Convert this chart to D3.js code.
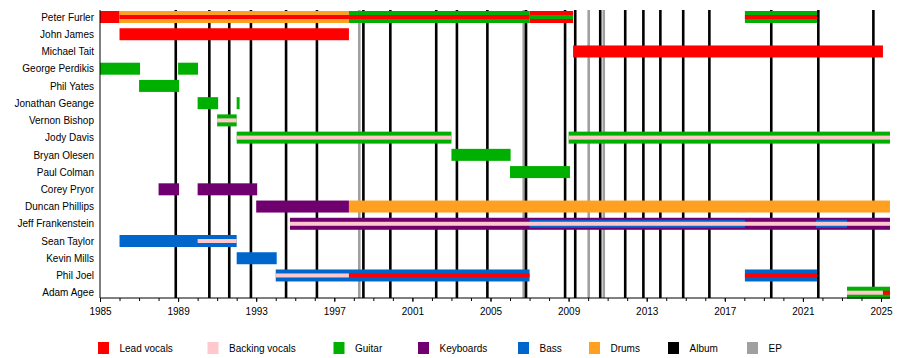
<!DOCTYPE html>
<html>
<head>
<meta charset="utf-8">
<script src="https://cdn.jsdelivr.net/npm/d3@7"></script>
<style>
  html, body { margin: 0; padding: 0; background: #fff; }
  svg { display: block; font-family: "Liberation Sans", Arial, sans-serif; }
</style>
</head>
<body>
<svg id="chart" width="900" height="358"></svg>
<script>
// ---------- data ----------
const members = ["Peter Furler", "John James", "Michael Tait", "George Perdikis", "Phil Yates",
  "Jonathan Geange", "Vernon Bishop", "Jody Davis", "Bryan Olesen", "Paul Colman",
  "Corey Pryor", "Duncan Phillips", "Jeff Frankenstein", "Sean Taylor", "Kevin Mills",
  "Phil Joel", "Adam Agee"];

const roles = ["Lead vocals", "Backing vocals", "Guitar", "Keyboards", "Bass", "Drums"];

// [member, role, start, end, layer]  layer: "full" | "inner" | "stripe"
const periods = [
  ["Peter Furler", "Lead vocals", 1985.0, 1986.0, "full"],
  ["Peter Furler", "Drums", 1986.0, 1997.75, "full"],
  ["Peter Furler", "Lead vocals", 1986.0, 1997.75, "stripe"],
  ["Peter Furler", "Guitar", 1997.75, 2007.0, "full"],
  ["Peter Furler", "Lead vocals", 1997.75, 2007.0, "stripe"],
  ["Peter Furler", "Lead vocals", 2007.0, 2009.23, "full"],
  ["Peter Furler", "Guitar", 2007.0, 2009.23, "stripe"],
  ["Peter Furler", "Guitar", 2018.03, 2021.72, "full"],
  ["Peter Furler", "Lead vocals", 2018.03, 2021.72, "stripe"],
  ["John James", "Lead vocals", 1986.0, 1997.75, "full"],
  ["Michael Tait", "Lead vocals", 2009.23, 2025.1, "full"],
  ["George Perdikis", "Guitar", 1985.0, 1987.05, "full"],
  ["George Perdikis", "Guitar", 1989.0, 1990.02, "full"],
  ["Phil Yates", "Guitar", 1987.0, 1989.05, "full"],
  ["Jonathan Geange", "Guitar", 1990.0, 1991.05, "full"],
  ["Jonathan Geange", "Guitar", 1992.0, 1992.15, "full"],
  ["Vernon Bishop", "Guitar", 1991.0, 1992.0, "full"],
  ["Vernon Bishop", "Backing vocals", 1991.0, 1992.0, "stripe"],
  ["Jody Davis", "Guitar", 1992.0, 2003.0, "full"],
  ["Jody Davis", "Backing vocals", 1992.0, 2003.0, "stripe"],
  ["Jody Davis", "Guitar", 2009.0, 2025.46, "full"],
  ["Jody Davis", "Backing vocals", 2009.0, 2025.46, "stripe"],
  ["Bryan Olesen", "Guitar", 2003.0, 2006.03, "full"],
  ["Paul Colman", "Guitar", 2006.0, 2009.07, "full"],
  ["Corey Pryor", "Keyboards", 1988.0, 1989.05, "full"],
  ["Corey Pryor", "Keyboards", 1990.0, 1993.05, "full"],
  ["Duncan Phillips", "Keyboards", 1993.0, 1997.75, "full"],
  ["Duncan Phillips", "Drums", 1997.75, 2025.46, "full"],
  ["Jeff Frankenstein", "Keyboards", 1994.73, 2025.46, "full"],
  ["Jeff Frankenstein", "Bass", 2007.0, 2018.03, "inner"],
  ["Jeff Frankenstein", "Bass", 2021.67, 2023.26, "inner"],
  ["Jeff Frankenstein", "Backing vocals", 1994.73, 2025.46, "stripe"],
  ["Sean Taylor", "Bass", 1986.0, 1992.0, "full"],
  ["Sean Taylor", "Backing vocals", 1990.0, 1992.0, "stripe"],
  ["Kevin Mills", "Bass", 1992.0, 1994.05, "full"],
  ["Phil Joel", "Bass", 1994.0, 2007.0, "full"],
  ["Phil Joel", "Backing vocals", 1994.0, 1997.75, "stripe"],
  ["Phil Joel", "Lead vocals", 1997.75, 2007.0, "stripe"],
  ["Phil Joel", "Bass", 2018.03, 2021.72, "full"],
  ["Phil Joel", "Lead vocals", 2018.03, 2021.72, "stripe"],
  ["Adam Agee", "Guitar", 2023.26, 2025.46, "full"],
  ["Adam Agee", "Backing vocals", 2023.26, 2025.1, "stripe"],
  ["Adam Agee", "Lead vocals", 2025.1, 2025.46, "stripe"]
];

const albums = [1988.88, 1990.6, 1991.62, 1992.73, 1994.53, 1996.11, 1998.49, 1999.87,
  2002.22, 2003.28, 2004.84, 2006.82, 2008.82, 2009.34, 2010.62, 2011.9, 2012.83,
  2013.7, 2014.87, 2016.21, 2019.38, 2021.79, 2024.61];
const eps = [1998.28, 2006.7, 2010.03, 2010.8];

const majorTicks = d3.range(1985, 2026, 4);
const minorTicks = d3.range(1985, 2026, 1);
const legendItems = ["Lead vocals", "Backing vocals", "Guitar", "Keyboards", "Bass", "Drums", "Album", "EP"];

// ---------- styles ----------
const roleColor = {
  "Lead vocals": "#ff0000",
  "Backing vocals": "#ffc8cc",
  "Guitar": "#00b000",
  "Keyboards": "#700070",
  "Bass": "#0066cc",
  "Drums": "#ffa020",
  "Album": "#000000",
  "EP": "#a0a0a0"
};
const layerH = { full: 12, inner: 8, stripe: 4 };
const layerOrder = { full: 0, inner: 1, stripe: 2 };

// ---------- layout ----------
const svg = d3.select("#chart");
const plotL = 100, plotR = 890, plotT = 10, plotB = 298;

const x = d3.scaleLinear().domain([1985, 2025]).range([100, 881]);
const y = d3.scalePoint().domain(members).range([17, 292.7]);

// album / EP lines
svg.append("g").selectAll("line").data(eps).join("line")
  .attr("x1", d => x(d)).attr("x2", d => x(d))
  .attr("y1", plotT).attr("y2", plotB)
  .attr("stroke", roleColor.EP).attr("stroke-width", 2.6);
svg.append("g").selectAll("line").data(albums).join("line")
  .attr("x1", d => x(d)).attr("x2", d => x(d))
  .attr("y1", plotT).attr("y2", plotB)
  .attr("stroke", roleColor.Album).attr("stroke-width", 2.6);

// bars
const sorted = periods.slice().sort((a, b) => layerOrder[a[4]] - layerOrder[b[4]]);
svg.append("g").selectAll("rect").data(sorted).join("rect")
  .attr("x", d => x(d[2]))
  .attr("width", d => x(d[3]) - x(d[2]))
  .attr("y", d => y(d[0]) - layerH[d[4]] / 2)
  .attr("height", d => layerH[d[4]])
  .attr("fill", d => roleColor[d[1]]);

// axes
const yAxis = d3.axisLeft(y).tickSize(0).tickPadding(6);
const gy = svg.append("g").attr("transform", `translate(${plotL},0)`).call(yAxis);
gy.select(".domain").remove();
gy.selectAll("text").attr("font-size", 10).attr("font-family", "'Liberation Sans', Arial, sans-serif").attr("fill", "#000");

svg.append("line").attr("x1", plotL).attr("x2", plotL).attr("y1", plotT).attr("y2", plotB)
  .attr("stroke", "#000").attr("stroke-width", 1);

const gxMinor = svg.append("g").attr("transform", `translate(0,${plotB})`)
  .call(d3.axisBottom(x).tickValues(minorTicks).tickSize(3).tickFormat(""));
gxMinor.select(".domain").remove();

const gx = svg.append("g").attr("transform", `translate(0,${plotB})`)
  .call(d3.axisBottom(x).tickValues(majorTicks).tickSize(4).tickPadding(6).tickFormat(d3.format("d")));
gx.select(".domain").remove();
gx.selectAll("text").attr("font-size", 10).attr("font-family", "'Liberation Sans', Arial, sans-serif").attr("fill", "#000");

svg.append("line").attr("x1", plotL).attr("x2", plotR).attr("y1", plotB).attr("y2", plotB)
  .attr("stroke", "#000").attr("stroke-width", 1);

// legend
const legendX = [98, 207.5, 333.5, 418, 518, 589, 668, 747];
const lg = svg.append("g").selectAll("g").data(legendItems).join("g")
  .attr("transform", (d, i) => `translate(${legendX[i]},342)`);
lg.append("rect").attr("width", 11).attr("height", 12).attr("fill", d => roleColor[d]);
lg.append("text").attr("x", 21.5).attr("y", 10)
  .attr("font-size", 10).attr("fill", "#000").text(d => d);
</script>
</body>
</html>
